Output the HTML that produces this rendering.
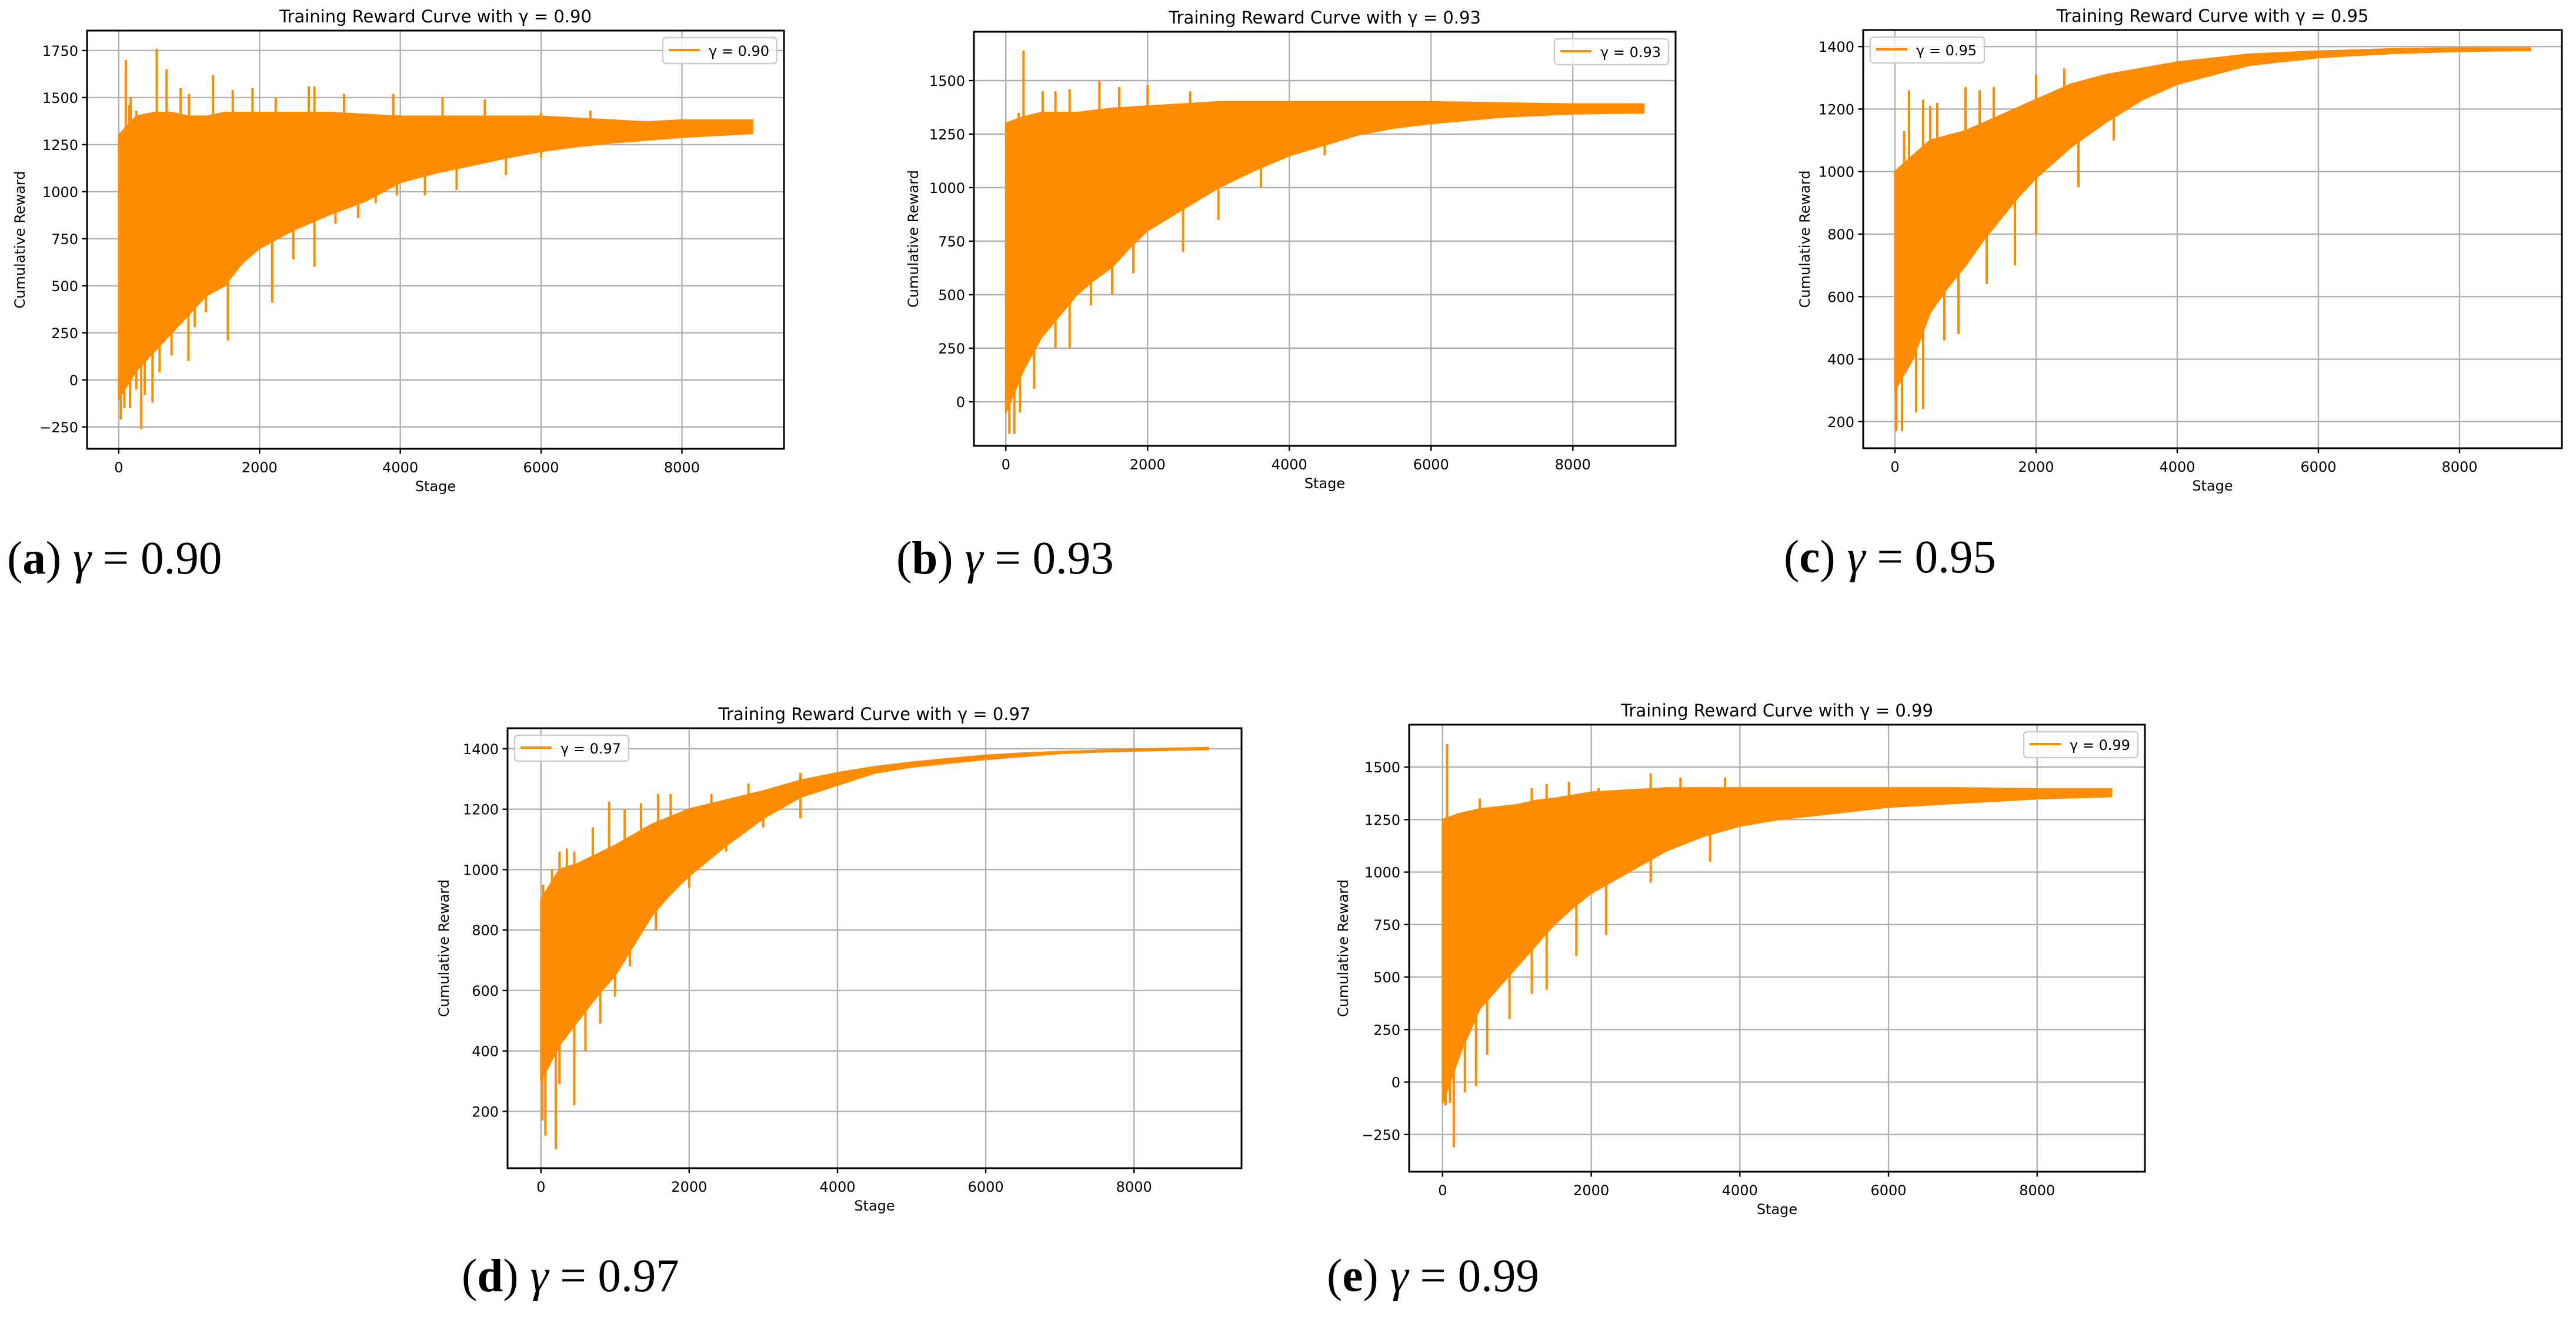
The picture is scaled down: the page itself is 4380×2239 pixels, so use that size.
<!DOCTYPE html>
<html><head><meta charset="utf-8">
<style>
html,body{margin:0;padding:0;background:#fff;}
svg{display:block;}
.tk{font-family:"DejaVu Sans","Liberation Sans",sans-serif;font-size:24px;fill:#000;}
.ttl{font-family:"DejaVu Sans","Liberation Sans",sans-serif;font-size:29px;fill:#000;}
.cap{font-family:"Liberation Serif",serif;font-size:79px;fill:#000;}
</style></head>
<body>
<svg id="fig" width="4380" height="2239" viewBox="0 0 4380 2239" xmlns="http://www.w3.org/2000/svg"></svg>
<script>
// ---- data ----
const stages = [0,250,500,750,1000,1250,1500,1750,2000,2500,3000,3500,4000,4500,5000,5500,6000,6500,7000,7500,8000,8500,9000];
const upperA = [1300,1400,1420,1420,1400,1400,1420,1420,1420,1420,1420,1410,1400,1400,1400,1400,1400,1390,1380,1370,1380,1380,1380];
const lowerA = [-100,50,150,250,350,450,500,620,700,800,880,950,1050,1100,1140,1180,1215,1240,1260,1275,1290,1300,1310];
const spikesUpA = [[60,1110],[100,1700],[150,1460],[170,1500],[250,1430],[300,1390],[380,1390],[490,1420],[540,1760],[680,1650],[880,1550],[1000,1520],[1340,1620],[1620,1540],[1900,1550],[2230,1500],[2700,1560],[2780,1560],[3200,1520],[3900,1520],[4600,1500],[5200,1490],[6000,1420],[6700,1430]];
const spikesDnA = [[30,-210],[80,-150],[160,-150],[250,-50],[320,-260],[370,-80],[480,-120],[580,40],[750,130],[990,100],[1050,380],[1080,280],[1240,360],[1550,210],[2180,410],[2480,640],[2780,600],[3080,830],[3400,860],[3650,940],[3950,980],[4350,980],[4800,1010],[5500,1090],[6000,1180]];

const upperB = [1300,1330,1350,1350,1350,1360,1370,1375,1380,1390,1400,1400,1400,1400,1400,1400,1400,1398,1395,1392,1390,1390,1390];
const lowerB = [-50,150,300,400,500,570,630,720,800,900,1000,1080,1150,1200,1250,1280,1300,1315,1330,1338,1345,1348,1350];
const spikesUpB = [[100,1050],[180,1350],[250,1640],[520,1450],[700,1450],[900,1460],[1320,1500],[1600,1470],[2000,1480],[2600,1450]];
const spikesDnB = [[50,-150],[120,-150],[200,-50],[400,60],[700,250],[900,250],[1200,450],[1500,500],[1800,600],[2500,700],[3000,850],[3600,1000],[4500,1150]];

const upperC = [1000,1050,1100,1115,1130,1155,1180,1205,1230,1280,1310,1330,1350,1362,1375,1380,1385,1388,1392,1394,1395,1395,1395];
const lowerC = [300,400,550,630,700,780,850,920,980,1080,1160,1230,1280,1310,1340,1353,1365,1372,1378,1382,1385,1387,1388];
const spikesUpC = [[130,1130],[200,1260],[400,1230],[500,1210],[600,1220],[1000,1270],[1200,1260],[1400,1270],[2000,1310],[2400,1330]];
const spikesDnC = [[20,170],[100,170],[300,230],[400,240],[700,460],[900,480],[1300,640],[1700,700],[2000,800],[2600,950],[3100,1100]];

const upperD = [900,1000,1020,1050,1080,1115,1150,1175,1200,1230,1260,1295,1320,1340,1355,1367,1378,1385,1390,1394,1398,1401,1403];
const lowerD = [300,420,500,580,650,750,850,920,980,1080,1170,1240,1280,1320,1340,1353,1365,1375,1385,1390,1393,1396,1398];
const spikesUpD = [[30,950],[80,900],[150,1000],[250,1060],[350,1070],[450,1060],[700,1140],[920,1225],[1130,1200],[1350,1220],[1580,1250],[1750,1250],[2300,1250],[2800,1285],[3500,1320]];
const spikesDnD = [[20,170],[60,120],[200,75],[250,290],[450,220],[600,400],[800,490],[1000,580],[1200,680],[1550,800],[2000,940],[2500,1060],[3000,1140],[3500,1170]];

const upperE = [1250,1280,1300,1310,1320,1340,1350,1365,1380,1390,1400,1400,1400,1400,1400,1400,1400,1400,1400,1398,1395,1395,1395];
const lowerE = [-100,150,350,450,550,650,750,830,900,1000,1100,1170,1220,1250,1270,1290,1310,1320,1330,1340,1350,1355,1360];
const spikesUpE = [[60,1610],[200,1280],[500,1350],[1000,1310],[1200,1400],[1400,1420],[1700,1430],[2100,1400],[2800,1470],[3200,1450],[3800,1450]];
const spikesDnE = [[40,-110],[100,-100],[150,-310],[300,-50],[450,-20],[600,130],[900,300],[1200,420],[1400,440],[1800,600],[2200,700],[2800,950],[3600,1050]];

const xTicks = [0,2000,4000,6000,8000];
const yTicksA = [-250,0,250,500,750,1000,1250,1500,1750];
const yTicksB = [0,250,500,750,1000,1250,1500];
const yTicksC = [200,400,600,800,1000,1200,1400];
const yTicksD = [200,400,600,800,1000,1200,1400];
const yTicksE = [-250,0,250,500,750,1000,1250,1500];
const gammas = ["0.90","0.93","0.95","0.97","0.99"];
const letters = ["a","b","c","d","e"];

// ---- layout (geometry, not data) ----
const panels = [
 {id:"a",L:148,R:1333,T:52,B:763,ymin:-366,ymax:1856,up:upperA,lo:lowerA,su:spikesUpA,sd:spikesDnA,yt:yTicksA,leg:"right",ylo:106,capX:12,capY:975},
 {id:"b",L:1656,R:2849,T:54,B:758,ymin:-206,ymax:1728,up:upperB,lo:lowerB,su:spikesUpB,sd:spikesDnB,yt:yTicksB,leg:"right",ylo:95,capX:1524,capY:975},
 {id:"c",L:3168,R:4356,T:51,B:762,ymin:115,ymax:1453,up:upperC,lo:lowerC,su:spikesUpC,sd:spikesDnC,yt:yTicksC,leg:"left",ylo:91,capX:3033,capY:973},
 {id:"d",L:863,R:2111,T:1238,B:1986,ymin:12,ymax:1468,up:upperD,lo:lowerD,su:spikesUpD,sd:spikesDnD,yt:yTicksD,leg:"left",ylo:100,capX:785,capY:2195},
 {id:"e",L:2396,R:3647,T:1232,B:1992,ymin:-427,ymax:1702,up:upperE,lo:lowerE,su:spikesUpE,sd:spikesDnE,yt:yTicksE,leg:"right",ylo:104,capX:2256,capY:2195}
];
const NS="http://www.w3.org/2000/svg";
const fig=document.getElementById("fig");
function mk(tag,attrs,parent){const e=document.createElementNS(NS,tag);for(const k in attrs)e.setAttribute(k,attrs[k]);(parent||fig).appendChild(e);return e;}
function interp(arr,s){for(let i=0;i<stages.length-1;i++){if(s<=stages[i+1]){const t=(s-stages[i])/(stages[i+1]-stages[i]);return arr[i]+t*(arr[i+1]-arr[i]);}}return arr[arr.length-1];}

panels.forEach((p,pi)=>{
  const g=mk("g",{});
  
  
  const xs=v=>p.L+(v+450)/(9900)*(p.R-p.L);
  const ys=v=>p.B-(v-p.ymin)/(p.ymax-p.ymin)*(p.B-p.T);
  // grid
  xTicks.forEach(t=>{const l=mk("line",{x1:xs(t),x2:xs(t),y1:p.T,y2:p.B,stroke:"#b0b0b0","stroke-width":2.4},g);
    });
  p.yt.forEach(t=>{const l=mk("line",{x1:p.L,x2:p.R,y1:ys(t),y2:ys(t),stroke:"#b0b0b0","stroke-width":2.4},g);
    });
  // band
  let d="M"+xs(stages[0])+","+ys(p.up[0]);
  for(let i=1;i<stages.length;i++)d+=" L"+xs(stages[i])+","+ys(p.up[i]);
  for(let i=stages.length-1;i>=0;i--)d+=" L"+xs(stages[i])+","+ys(p.lo[i]);
  const band=mk("path",{d:d+"Z",fill:"#ff8c00",stroke:"#ff8c00","stroke-width":3},g);
  
  
  // spikes
  p.su.forEach(s=>{const l=mk("line",{x1:xs(s[0]),x2:xs(s[0]),y1:ys(interp(p.lo,s[0])),y2:ys(s[1]),stroke:"#ff8c00","stroke-width":4},g);
    });
  p.sd.forEach(s=>{const l=mk("line",{x1:xs(s[0]),x2:xs(s[0]),y1:ys(interp(p.up,s[0])),y2:ys(s[1]),stroke:"#ff8c00","stroke-width":4},g);
    });
  // frame
  const fr=mk("rect",{x:p.L,y:p.T,width:p.R-p.L,height:p.B-p.T,fill:"none",stroke:"#000","stroke-width":3},g);
  
  // ticks
  xTicks.forEach(t=>{mk("line",{x1:xs(t),x2:xs(t),y1:p.B,y2:p.B+8.5,stroke:"#000","stroke-width":2.4},g);
    const tx=mk("text",{x:xs(t),y:p.B+40,"text-anchor":"middle",class:"tk"},g);tx.textContent=t;
    });
  p.yt.forEach(t=>{mk("line",{x1:p.L-8.5,x2:p.L,y1:ys(t),y2:ys(t),stroke:"#000","stroke-width":2.4},g);
    const tx=mk("text",{x:p.L-15,y:ys(t)+9,"text-anchor":"end",class:"tk"},g);tx.textContent=t<0?"\u2212"+(-t):t;
    });
  // labels
  const xl=mk("text",{x:(p.L+p.R)/2,y:p.B+72,"text-anchor":"middle",class:"tk"},g);xl.textContent="Stage";
  
  const cy=(p.T+p.B)/2;
  const yl=mk("text",{x:p.L-p.ylo,y:cy,"text-anchor":"middle",class:"tk",transform:"rotate(-90 "+(p.L-p.ylo)+" "+cy+")"},g);yl.textContent="Cumulative Reward";
  
  const tt=mk("text",{x:(p.L+p.R)/2,y:p.T-14,"text-anchor":"middle",class:"ttl"},g);tt.textContent="Training Reward Curve with \u03b3 = "+gammas[pi];
  
  // legend
  const lw=194,lh=44;const lx=p.leg==="right"?p.R-12-lw:p.L+12;const ly=p.T+12;
  const lg=mk("g",{},g);
  
  mk("rect",{x:lx,y:ly,width:lw,height:lh,rx:6,fill:"#fff","fill-opacity":0.8,stroke:"#cccccc","stroke-width":2.4},lg);
  mk("line",{x1:lx+10,x2:lx+63,y1:ly+21,y2:ly+21,stroke:"#ff8c00","stroke-width":4},lg);
  const lt=mk("text",{x:lx+78,y:ly+31,class:"tk"},lg);lt.textContent="\u03b3 = "+gammas[pi];
  
  // caption
  const cap=mk("text",{x:p.capX,y:p.capY,class:"cap"},g);
  cap.innerHTML='(<tspan font-weight="bold">'+letters[pi]+'</tspan>) <tspan font-style="italic">\u03b3</tspan> = '+gammas[pi];
  
});
</script>
</body></html>
